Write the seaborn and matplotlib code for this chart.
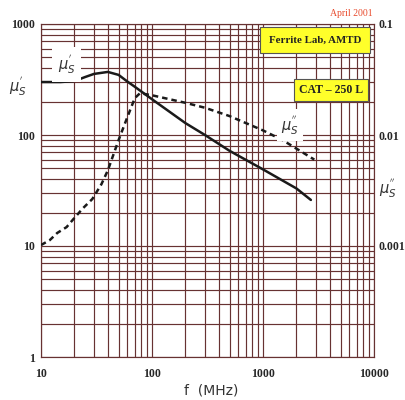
import matplotlib
matplotlib.use("Agg")
import matplotlib.pyplot as plt
import seaborn as sns
import pandas as pd
from matplotlib.ticker import FixedLocator, LogLocator, NullFormatter

# Data
freq_real = [10, 15, 20, 25, 30, 40, 50, 60, 70, 100, 200, 300, 500, 1000, 2000, 2700]
mu_real = [300, 300, 306, 333, 355, 370, 348, 303, 272, 210, 128, 100, 72, 49, 33, 26]

freq_imag = [10, 12, 14, 17, 20, 24, 29, 35, 40, 50, 60, 70, 78, 100, 200, 300, 500, 1000, 1500, 2900]
mu_imag = [10.2, 11.3, 13.1, 14.8, 17.9, 22, 26.5, 36, 48, 90, 145, 215, 238, 228, 195, 176, 148, 110, 90, 60]

x_ticks = [10, 100, 1000, 10000]
x_tick_labels = ["10", "100", "1000", "10000"]
y_ticks = [1, 10, 100, 1000]
y_tick_labels = ["1", "10", "100", "1000"]
right_ticks = [10, 100, 1000]
right_tick_labels = ["0.001", "0.01", "0.1"]

df_real = pd.DataFrame({"f": freq_real, "mu": mu_real})
df_imag = pd.DataFrame({"f": freq_imag, "mu": mu_imag})

sns.set_theme(style="white")
plt.rcParams["font.family"] = ["DejaVu Sans"]
plt.rcParams["mathtext.fontset"] = "dejavusans"

fig = plt.figure(figsize=(4.06, 4.0), dpi=100)
ax = fig.add_axes([41 / 406, 1 - 357 / 400, 333 / 406, 333 / 400])

grid_col = "#673232"
ax.set_xscale("log")
ax.set_yscale("log")
ax.set_xlim(10, 10000)
ax.set_ylim(1, 1000)
ax.xaxis.set_major_locator(FixedLocator(x_ticks))
ax.yaxis.set_major_locator(FixedLocator(y_ticks))
ax.xaxis.set_minor_locator(LogLocator(base=10, subs=range(2, 10), numticks=20))
ax.yaxis.set_minor_locator(LogLocator(base=10, subs=range(2, 10), numticks=20))
ax.xaxis.set_minor_formatter(NullFormatter())
ax.yaxis.set_minor_formatter(NullFormatter())
ax.grid(True, which="both", color=grid_col, linewidth=0.85)
ax.set_axisbelow(True)
for s in ax.spines.values():
    s.set_color(grid_col)
    s.set_linewidth(0.85)
ax.tick_params(which="both", length=0)

tick_font = dict(family="Liberation Serif", weight="bold", size=8.5)
ax.set_xticklabels(x_tick_labels, fontdict=tick_font)
ax.set_yticklabels(y_tick_labels, fontdict=tick_font)
ax.tick_params(axis="x", pad=8)
ax.tick_params(axis="y", pad=4)

sns.lineplot(data=df_real, x="f", y="mu", ax=ax, color="#1a1a1a", linewidth=1.8, zorder=5)
sns.lineplot(data=df_imag, x="f", y="mu", ax=ax, color="#1a1a1a", linewidth=1.8,
             linestyle=(0, (2.2, 1.6)), zorder=5)
ax.set_xlabel("")
ax.set_ylabel("")
fig.text(211 / 406, 1 - 390 / 400, "f  (MHz)", ha="center", va="center",
         fontsize=10, color="#333333")

# right axis
ax2 = ax.twinx()
ax2.set_yscale("log")
ax2.set_ylim(1, 1000)
ax2.yaxis.set_major_locator(FixedLocator(right_ticks))
ax2.yaxis.set_minor_formatter(NullFormatter())
ax2.yaxis.set_minor_locator(FixedLocator([]))
ax2.set_yticklabels(right_tick_labels, fontdict=tick_font)
ax2.tick_params(which="both", length=0, pad=3)
for s in ax2.spines.values():
    s.set_visible(False)

# annotations
lab_kw = dict(fontsize=10.5, color="#333333")
fig.text(18 / 406, 1 - 86 / 400, r"$\mu^{'}_{S}$", ha="center", va="center", **lab_kw)
fig.text(388 / 406, 1 - 188 / 400, r"$\mu^{''}_{S}$", ha="center", va="center", **lab_kw)
ax.text(17, 430, r"$\mu^{'}_{S}$", ha="center", va="center", zorder=6,
        bbox=dict(facecolor="white", edgecolor="none", pad=4), **lab_kw)
ax.text(1750, 123, r"$\mu^{''}_{S}$", ha="center", va="center", zorder=6,
        bbox=dict(facecolor="white", edgecolor="none", pad=3), **lab_kw)

box_font = dict(family="Liberation Serif", weight="bold", color="#222222")
fig.text(315 / 406, 1 - 40 / 400, "Ferrite Lab, AMTD", ha="center", va="center", size=7.8,
         bbox=dict(facecolor="#ffff2a", edgecolor="#555555", linewidth=0.8,
                   boxstyle="square,pad=0.8"), zorder=7, **box_font)
fig.text(331 / 406, 1 - 90 / 400, "CAT \u2013 250 L", ha="center", va="center", size=8.5,
         bbox=dict(facecolor="#ffff2a", edgecolor="#555555", linewidth=0.8,
                   boxstyle="square,pad=0.4"), zorder=7, **box_font)
fig.text(351 / 406, 1 - 13 / 400, "April 2001", ha="center", va="center",
         family="Liberation Serif", size=7, color="#e84a2c")

fig.savefig("out.png", dpi=100)
